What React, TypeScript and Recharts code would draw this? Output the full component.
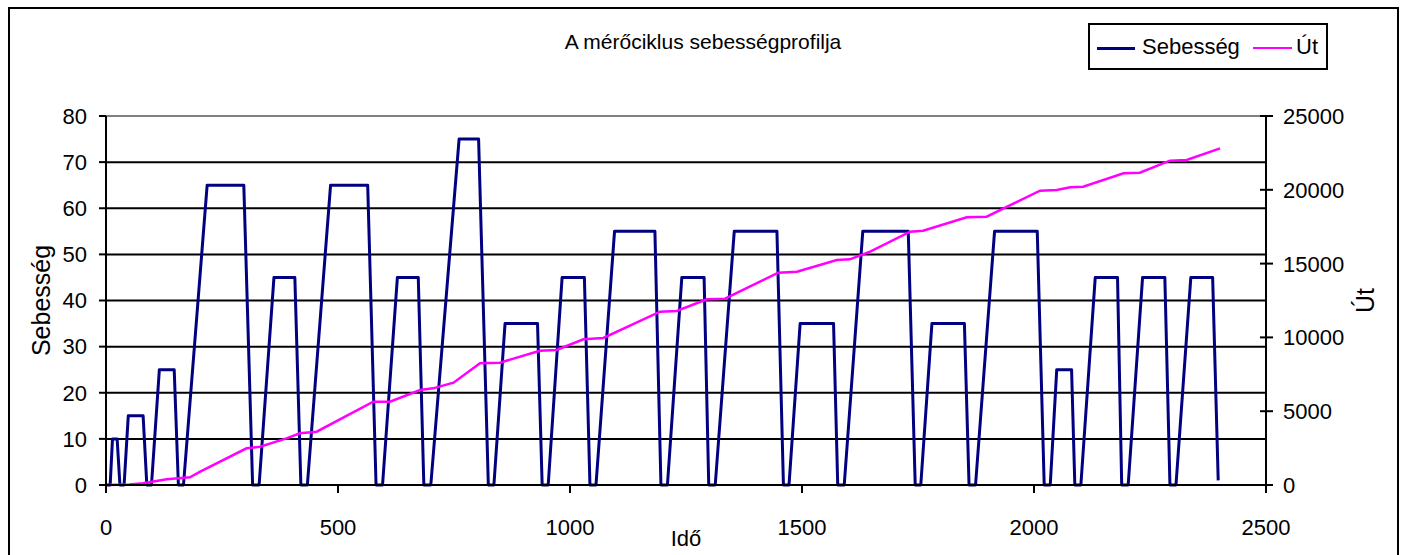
import React from 'react';
import {
  ComposedChart,
  Line,
  XAxis,
  YAxis,
  CartesianGrid,
  ReferenceLine,
} from 'recharts';

const FONT = '"Liberation Sans", Arial, sans-serif';

// Sebesség (speed) – time / value breakpoints
const speedTime = [
  0,
  9, 14, 24, 30,
  39, 48, 80, 88,
  98, 115, 147, 156,
  167, 218, 297, 316,
  330, 362, 407, 420,
  434, 484, 564, 582,
  596, 628, 673, 685,
  700, 761, 803, 824,
  836, 860, 930, 940,
  953, 983, 1031, 1043,
  1056, 1096, 1183, 1196,
  1210, 1241, 1289, 1299,
  1313, 1354, 1446, 1460,
  1472, 1496, 1568, 1577,
  1591, 1631, 1729, 1744,
  1756, 1780, 1850, 1860,
  1874, 1915, 2007, 2022,
  2035, 2049, 2081, 2088,
  2101, 2132, 2180, 2189,
  2203, 2234, 2282, 2293,
  2306, 2338, 2385, 2397,
];
const speedValue = [
  0,
  0, 10, 10, 0,
  0, 15, 15, 0,
  0, 25, 25, 0,
  0, 65, 65, 0,
  0, 45, 45, 0,
  0, 65, 65, 0,
  0, 45, 45, 0,
  0, 75, 75, 0,
  0, 35, 35, 0,
  0, 45, 45, 0,
  0, 55, 55, 0,
  0, 45, 45, 0,
  0, 55, 55, 0,
  0, 35, 35, 0,
  0, 55, 55, 0,
  0, 35, 35, 0,
  0, 55, 55, 0,
  0, 25, 25, 0,
  0, 45, 45, 0,
  0, 45, 45, 0,
  0, 45, 45, 1,
];

// Út (distance)
const distTime = [
  0, 50, 80, 131, 181, 203, 303, 332, 389, 418, 454, 576, 612, 677, 705,
  749, 806, 849, 935, 971, 1029, 1072, 1194, 1230, 1295, 1334, 1449, 1489,
  1575, 1603, 1647, 1733, 1761, 1855, 1898, 2013, 2049, 2078, 2106, 2193,
  2228, 2293, 2329, 2401,
];
const distValue = [
  0, 30, 113, 386, 520, 903, 2484, 2597, 3161, 3500, 3613, 5644, 5644, 6436,
  6549, 6933, 8245, 8286, 9099, 9146, 9871, 9959, 11741, 11789, 12581, 12622,
  14384, 14452, 15244, 15291, 15807, 17161, 17229, 18137, 18178, 19939, 19986,
  20169, 20210, 21118, 21158, 21971, 22019, 22811,
];

const timeTicks = [0, 500, 1000, 1500, 2000, 2500];
const speedTicks = [0, 10, 20, 30, 40, 50, 60, 70, 80];
const distTicks = [0, 5000, 10000, 15000, 20000, 25000];

const speedData = speedTime.map((t, i) => ({ t, v: speedValue[i] }));
const distData = distTime.map((t, i) => ({ t, d: distValue[i] }));

const RightTick = ({ x, y, payload }: any) => (
  <g>
    <line x1={x - 6} x2={x + 7} y1={y} y2={y} stroke="#000" strokeWidth={2} />
    <text x={x + 17} y={y} dy="0.36em" fontSize={22} fill="#000" fontFamily={FONT}>
      {payload.value}
    </text>
  </g>
);

const rotatedLabel = (text: string, dx: number) => (props: any) => {
  const vb = props.viewBox;
  const cx = vb.x + dx;
  const cy = vb.y + vb.height / 2;
  return (
    <g transform={`translate(${cx},${cy}) rotate(-90)`}>
      <text textAnchor="middle" dy="0.36em" fontSize={25} fill="#000" fontFamily={FONT}>
        {text}
      </text>
    </g>
  );
};

const bottomLabel = (props: any) => {
  const vb = props.viewBox;
  return (
    <text x={vb.x + vb.width / 2} y={vb.y + 61} textAnchor="middle" fontSize={22} fill="#000" fontFamily={FONT}>
      Idő
    </text>
  );
};

const App = () => {
  return (
    <div style={{ position: 'absolute', left: 0, top: 0, width: 1403, height: 555, overflow: 'hidden', background: '#fff', fontFamily: FONT }}>
      {/* chart frame */}
      <div style={{ position: 'absolute', left: 8, top: 7, width: 1391, height: 600, border: '2px solid #000', boxSizing: 'border-box' }} />

      <div style={{ position: 'absolute', left: 503, top: 30, width: 400, textAlign: 'center', fontSize: 21, lineHeight: '24px', color: '#000' }}>
        A mérőciklus sebességprofilja
      </div>

      {/* legend */}
      <div style={{ position: 'absolute', left: 1088, top: 23, width: 240, height: 47, border: '2px solid #000', boxSizing: 'border-box', background: '#fff' }}>
        <div style={{ position: 'absolute', left: 7, top: 22, width: 38, height: 3, background: '#000080' }} />
        <div style={{ position: 'absolute', left: 52, top: 10, fontSize: 22, lineHeight: '24px', color: '#000' }}>Sebesség</div>
        <div style={{ position: 'absolute', left: 163, top: 22, width: 39, height: 2, background: '#ff00ff' }} />
        <div style={{ position: 'absolute', left: 206, top: 10, fontSize: 22, lineHeight: '24px', color: '#000' }}>Út</div>
      </div>

      <div style={{ position: 'absolute', left: 0, top: 0 }}>
        <ComposedChart width={1403} height={555} margin={{ top: 116, right: 0, bottom: 0, left: 0 }}>
          <CartesianGrid vertical={false} stroke="#000" strokeWidth={2} strokeOpacity={1} />
          <XAxis
            type="number"
            dataKey="t"
            domain={[0, 2500]}
            ticks={timeTicks}
            height={70}
            tickSize={8}
            tickMargin={26}
            axisLine={{ stroke: '#000', strokeWidth: 2 }}
            tickLine={{ stroke: '#000', strokeWidth: 2 }}
            tick={{ fontSize: 22, fill: '#000', fontFamily: FONT }}
            label={bottomLabel}
            allowDuplicatedCategory={false}
          />
          <YAxis
            yAxisId={0}
            type="number"
            domain={[0, 80]}
            ticks={speedTicks}
            width={106}
            tickSize={7}
            tickMargin={12}
            axisLine={{ stroke: '#000', strokeWidth: 2 }}
            tickLine={{ stroke: '#000', strokeWidth: 2 }}
            tick={{ fontSize: 22, fill: '#000', fontFamily: FONT }}
            label={rotatedLabel('Sebesség', 41)}
          />
          <YAxis
            yAxisId="right"
            orientation="right"
            type="number"
            domain={[0, 25000]}
            ticks={distTicks}
            width={137}
            tickSize={0}
            tickMargin={0}
            tickLine={false}
            axisLine={{ stroke: '#000', strokeWidth: 2 }}
            tick={RightTick}
            label={rotatedLabel('Út', 99)}
          />
          <ReferenceLine y={80} stroke="#808080" strokeWidth={2} />
          <Line
            data={speedData}
            dataKey="v"
            type="linear"
            stroke="#000080"
            strokeWidth={3}
            dot={false}
            strokeLinejoin="round"
            isAnimationActive={false}
          />
          <Line
            data={distData}
            yAxisId="right"
            dataKey="d"
            type="linear"
            stroke="#ff00ff"
            strokeWidth={2.5}
            dot={false}
            isAnimationActive={false}
          />
        </ComposedChart>
      </div>
    </div>
  );
};

export default App;
